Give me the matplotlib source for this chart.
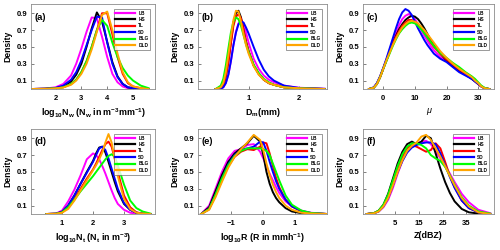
import matplotlib
matplotlib.use('Agg')
import matplotlib.pyplot as plt

plt.rcParams['font.family'] = ['Liberation Sans', 'DejaVu Sans']
plt.rcParams['font.weight'] = 'bold'
plt.rcParams['mathtext.fontset'] = 'custom'
plt.rcParams['mathtext.rm'] = 'Liberation Sans'
plt.rcParams['mathtext.bf'] = 'Liberation Sans:bold'
plt.rcParams['mathtext.it'] = 'Liberation Sans:italic'
plt.rcParams['mathtext.default'] = 'bf'

names = ['LB', 'HS', 'TL', 'SD', 'BLG', 'DLD']
colors = ['#ff00ff', '#000000', '#ff0000', '#0000ff', '#00ff00', '#ffa500']

# (a) log10 Nw
nw_x = [1.1, 1.6, 2.0, 2.3, 2.6, 2.8, 3.0, 3.2, 3.4, 3.6, 3.8, 4.0, 4.2, 4.4, 4.6, 4.8, 5.0, 5.3, 5.6]
nw_lb = [0, 0.005, 0.02, 0.06, 0.16, 0.3, 0.48, 0.68, 0.85, 0.84, 0.62, 0.38, 0.18, 0.08, 0.03, 0.01, 0.005, 0, 0]
nw_hs = [0, 0.003, 0.01, 0.03, 0.09, 0.17, 0.3, 0.5, 0.72, 0.91, 0.8, 0.56, 0.32, 0.15, 0.06, 0.02, 0.01, 0, 0]
nw_tl = [0, 0.002, 0.008, 0.02, 0.06, 0.11, 0.2, 0.33, 0.5, 0.7, 0.9, 0.9, 0.65, 0.38, 0.18, 0.07, 0.03, 0.01, 0]
nw_sd = [0, 0.003, 0.012, 0.04, 0.11, 0.2, 0.34, 0.52, 0.7, 0.86, 0.85, 0.55, 0.3, 0.14, 0.06, 0.02, 0.01, 0, 0]
nw_blg = [0, 0.002, 0.008, 0.02, 0.06, 0.11, 0.2, 0.33, 0.5, 0.7, 0.82, 0.75, 0.55, 0.38, 0.25, 0.16, 0.1, 0.04, 0.01]
nw_dld = [0, 0.002, 0.007, 0.018, 0.05, 0.1, 0.18, 0.3, 0.47, 0.68, 0.88, 0.92, 0.7, 0.42, 0.2, 0.08, 0.03, 0.01, 0]

# (b) Dm
dm_x = [0.35, 0.45, 0.5, 0.55, 0.6, 0.65, 0.7, 0.75, 0.8, 0.85, 0.9, 0.95, 1.0, 1.1, 1.2, 1.3, 1.4, 1.5, 1.7, 2.0, 2.5]
dm_lb = [0, 0.005, 0.02, 0.07, 0.17, 0.33, 0.52, 0.68, 0.78, 0.82, 0.78, 0.67, 0.55, 0.36, 0.24, 0.16, 0.11, 0.08, 0.04, 0.015, 0.003]
dm_hs = [0, 0.01, 0.05, 0.15, 0.33, 0.56, 0.78, 0.9, 0.93, 0.85, 0.7, 0.56, 0.45, 0.28, 0.18, 0.11, 0.07, 0.05, 0.02, 0.008, 0]
dm_tl = [0, 0.01, 0.05, 0.15, 0.32, 0.54, 0.75, 0.86, 0.89, 0.84, 0.7, 0.56, 0.45, 0.28, 0.18, 0.11, 0.07, 0.05, 0.02, 0.008, 0]
dm_sd = [0, 0.005, 0.02, 0.07, 0.17, 0.33, 0.52, 0.67, 0.77, 0.8, 0.79, 0.73, 0.66, 0.5, 0.35, 0.23, 0.15, 0.1, 0.04, 0.012, 0.002]
dm_blg = [0, 0.04, 0.12, 0.28, 0.48, 0.67, 0.8, 0.85, 0.83, 0.75, 0.64, 0.53, 0.44, 0.29, 0.19, 0.12, 0.08, 0.05, 0.02, 0.008, 0]
dm_dld = [0, 0.02, 0.07, 0.2, 0.4, 0.62, 0.82, 0.93, 0.92, 0.8, 0.65, 0.52, 0.42, 0.27, 0.17, 0.11, 0.07, 0.05, 0.02, 0.008, 0]

# (c) mu
mu_x = [-4.5, -3, -2, -1, 0, 1, 2, 3, 4, 5, 6, 7, 8, 9, 10, 11, 12, 13, 14, 15, 16, 18, 20, 22, 24, 26, 28, 29, 30, 31, 32, 33.5]
mu_lb = [0, 0.02, 0.07, 0.15, 0.25, 0.35, 0.46, 0.57, 0.67, 0.76, 0.83, 0.87, 0.89, 0.87, 0.83, 0.77, 0.7, 0.63, 0.57, 0.51, 0.46, 0.38, 0.33, 0.27, 0.22, 0.17, 0.12, 0.09, 0.06, 0.03, 0.01, 0]
mu_hs = [0, 0.015, 0.06, 0.14, 0.24, 0.34, 0.44, 0.54, 0.63, 0.71, 0.77, 0.82, 0.85, 0.87, 0.86, 0.83, 0.78, 0.72, 0.65, 0.58, 0.52, 0.42, 0.34, 0.27, 0.22, 0.17, 0.12, 0.09, 0.06, 0.03, 0.01, 0]
mu_tl = [0, 0.015, 0.06, 0.14, 0.24, 0.34, 0.44, 0.54, 0.62, 0.69, 0.75, 0.79, 0.82, 0.82, 0.8, 0.77, 0.72, 0.67, 0.61, 0.55, 0.5, 0.42, 0.35, 0.29, 0.23, 0.18, 0.13, 0.1, 0.06, 0.03, 0.01, 0]
mu_sd = [0, 0.02, 0.07, 0.15, 0.25, 0.36, 0.48, 0.6, 0.72, 0.83, 0.91, 0.95, 0.93, 0.88, 0.8, 0.72, 0.65, 0.58, 0.52, 0.47, 0.42, 0.36, 0.32, 0.26, 0.2, 0.16, 0.12, 0.09, 0.06, 0.03, 0.01, 0]
mu_blg = [0, 0.015, 0.06, 0.14, 0.24, 0.33, 0.42, 0.51, 0.59, 0.66, 0.71, 0.75, 0.78, 0.79, 0.78, 0.75, 0.71, 0.66, 0.61, 0.56, 0.51, 0.43, 0.37, 0.31, 0.26, 0.2, 0.15, 0.12, 0.08, 0.04, 0.015, 0]
mu_dld = [0, 0.015, 0.06, 0.14, 0.24, 0.34, 0.43, 0.52, 0.6, 0.67, 0.73, 0.77, 0.8, 0.81, 0.8, 0.78, 0.74, 0.7, 0.65, 0.6, 0.55, 0.45, 0.37, 0.3, 0.24, 0.19, 0.14, 0.1, 0.07, 0.03, 0.01, 0]

# (d) log10 Nt
nt_x = [0.5, 0.8, 1.0, 1.2, 1.4, 1.6, 1.8, 2.0, 2.1, 2.2, 2.3, 2.4, 2.5, 2.6, 2.7, 2.8, 3.0, 3.2, 3.4, 3.6, 3.85]
nt_lb = [0, 0.005, 0.04, 0.15, 0.29, 0.46, 0.65, 0.72, 0.7, 0.65, 0.57, 0.48, 0.38, 0.28, 0.19, 0.12, 0.05, 0.015, 0.005, 0, 0]
nt_hs = [0, 0.003, 0.025, 0.1, 0.22, 0.36, 0.5, 0.63, 0.72, 0.79, 0.8, 0.73, 0.62, 0.5, 0.38, 0.27, 0.12, 0.05, 0.015, 0.005, 0]
nt_tl = [0, 0.003, 0.02, 0.08, 0.18, 0.3, 0.42, 0.53, 0.6, 0.68, 0.76, 0.83, 0.86, 0.8, 0.66, 0.5, 0.22, 0.08, 0.02, 0.005, 0]
nt_sd = [0, 0.003, 0.025, 0.1, 0.22, 0.36, 0.49, 0.62, 0.7, 0.78, 0.8, 0.76, 0.66, 0.54, 0.42, 0.3, 0.13, 0.05, 0.015, 0.005, 0]
nt_blg = [0, 0.003, 0.02, 0.08, 0.17, 0.27, 0.36, 0.45, 0.5, 0.55, 0.6, 0.65, 0.69, 0.71, 0.68, 0.58, 0.35, 0.16, 0.07, 0.03, 0.005]
nt_dld = [0, 0.002, 0.015, 0.06, 0.16, 0.28, 0.4, 0.52, 0.58, 0.65, 0.73, 0.85, 0.95, 0.85, 0.66, 0.45, 0.18, 0.06, 0.015, 0.005, 0]

# (e) log10 R
r_x = [-1.95, -1.7, -1.5, -1.3, -1.1, -0.9, -0.7, -0.5, -0.3, -0.1, 0.0, 0.1, 0.2, 0.3, 0.4, 0.5, 0.7, 0.9, 1.2, 1.5, 2.0]
r_lb = [0, 0.1, 0.3, 0.5, 0.66, 0.75, 0.77, 0.82, 0.83, 0.74, 0.66, 0.57, 0.48, 0.4, 0.32, 0.25, 0.15, 0.09, 0.04, 0.015, 0]
r_hs = [0, 0.08, 0.27, 0.46, 0.62, 0.72, 0.78, 0.84, 0.93, 0.86, 0.7, 0.5, 0.36, 0.26, 0.19, 0.14, 0.07, 0.03, 0.01, 0.003, 0]
r_tl = [0, 0.06, 0.22, 0.4, 0.57, 0.68, 0.74, 0.77, 0.76, 0.8, 0.85, 0.84, 0.72, 0.57, 0.43, 0.32, 0.17, 0.09, 0.03, 0.01, 0]
r_sd = [0, 0.06, 0.23, 0.42, 0.59, 0.7, 0.76, 0.78, 0.8, 0.86, 0.85, 0.75, 0.62, 0.5, 0.39, 0.3, 0.17, 0.09, 0.035, 0.012, 0]
r_blg = [0, 0.06, 0.23, 0.42, 0.58, 0.69, 0.75, 0.78, 0.78, 0.78, 0.77, 0.75, 0.7, 0.6, 0.5, 0.4, 0.22, 0.11, 0.04, 0.012, 0]
r_dld = [0, 0.05, 0.2, 0.38, 0.55, 0.68, 0.77, 0.85, 0.94, 0.88, 0.76, 0.6, 0.46, 0.35, 0.26, 0.19, 0.1, 0.05, 0.015, 0.005, 0]

# (f) Z
z_x = [-7, -4, -2, 0, 2, 4, 6, 8, 10, 12, 14, 16, 18, 20, 22, 24, 26, 28, 30, 33, 36, 40, 45]
z_lb = [0, 0.01, 0.03, 0.08, 0.17, 0.31, 0.48, 0.63, 0.74, 0.8, 0.83, 0.86, 0.87, 0.83, 0.75, 0.66, 0.57, 0.48, 0.38, 0.24, 0.14, 0.05, 0.01]
z_hs = [0, 0.01, 0.04, 0.11, 0.24, 0.42, 0.6, 0.74, 0.83, 0.86, 0.83, 0.86, 0.93, 0.9, 0.72, 0.54, 0.38, 0.25, 0.15, 0.06, 0.02, 0.005, 0]
z_tl = [0, 0.01, 0.035, 0.1, 0.21, 0.37, 0.54, 0.68, 0.78, 0.82, 0.8, 0.77, 0.74, 0.76, 0.84, 0.78, 0.62, 0.45, 0.32, 0.16, 0.07, 0.02, 0]
z_sd = [0, 0.008, 0.03, 0.09, 0.19, 0.34, 0.5, 0.63, 0.73, 0.79, 0.82, 0.84, 0.85, 0.85, 0.83, 0.72, 0.58, 0.44, 0.31, 0.16, 0.07, 0.02, 0]
z_blg = [0, 0.01, 0.04, 0.11, 0.23, 0.4, 0.57, 0.71, 0.8, 0.84, 0.84, 0.82, 0.78, 0.7, 0.66, 0.63, 0.56, 0.46, 0.35, 0.2, 0.1, 0.03, 0.005]
z_dld = [0, 0.008, 0.03, 0.09, 0.19, 0.34, 0.5, 0.64, 0.75, 0.81, 0.85, 0.92, 0.94, 0.88, 0.78, 0.68, 0.57, 0.45, 0.34, 0.19, 0.09, 0.02, 0]

panels = [
    ('(a)', nw_x, [nw_lb, nw_hs, nw_tl, nw_sd, nw_blg, nw_dld], (1.05, 5.85), [2, 3, 4, 5],
     r'log$_{10}$N$_{w}$ (N$_{w}$ in m$^{-3}$mm$^{-1}$)'),
    ('(b)', dm_x, [dm_lb, dm_hs, dm_tl, dm_sd, dm_blg, dm_dld], (0.0, 2.55), [1, 2],
     r'D$_{m}$(mm)'),
    ('(c)', mu_x, [mu_lb, mu_hs, mu_tl, mu_sd, mu_blg, mu_dld], (-6.4, 35), [0, 10, 20, 30],
     'μ'),
    ('(d)', nt_x, [nt_lb, nt_hs, nt_tl, nt_sd, nt_blg, nt_dld], (0.0, 4.0), [1, 2, 3],
     r'log$_{10}$N$_{t}$ (N$_{t}$ in m$^{-3}$)'),
    ('(e)', r_x, [r_lb, r_hs, r_tl, r_sd, r_blg, r_dld], (-2.05, 2.0), [-1, 0, 1],
     r'log$_{10}$R (R in mmh$^{-1}$)'),
    ('(f)', z_x, [z_lb, z_hs, z_tl, z_sd, z_blg, z_dld], (-8.6, 46.6), [5, 15, 25, 35],
     r'Z(dBZ)'),
]

fig = plt.figure(figsize=(5, 2.5), dpi=100)
lefts = [0.062, 0.396, 0.726]
widths = [0.248, 0.258, 0.262]
bottoms = [0.644, 0.144]

for i, (tag, x, ys, xlim, xticks, xlabel) in enumerate(panels):
    row, col = divmod(i, 3)
    ax = fig.add_axes([lefts[col], bottoms[row], widths[col], 0.34])
    for y, name, c in zip(ys, names, colors):
        ax.plot(x, y, color=c, lw=1.4, label=name)
    ax.set_xlim(*xlim)
    ax.set_ylim(0, 1.01)
    ax.set_xticks(xticks)
    ax.set_yticks([0.1, 0.3, 0.5, 0.7, 0.9])
    ax.tick_params(direction='in', length=2, width=0.5, labelsize=5.5, color='0.3')
    ax.tick_params(axis='x', pad=4.5)
    ax.tick_params(axis='y', pad=2.5)
    for lab in ax.get_xticklabels() + ax.get_yticklabels():
        lab.set_fontweight('bold')
    for sp in ax.spines.values():
        sp.set_color('0.55')
        sp.set_linewidth(0.6)
    ax.set_ylabel('Density', fontsize=6.2, fontweight='bold', labelpad=3)
    if xlabel == 'μ':
        ax.set_xlabel(xlabel, fontsize=6.5, fontweight='normal', fontstyle='italic', labelpad=3)
    else:
        ax.set_xlabel(xlabel, fontsize=6.4, fontweight='bold', labelpad=3)
    ax.text(0.03, 0.9, tag, transform=ax.transAxes, fontsize=6.8, fontweight='bold',
            va='top', ha='left')
    leg = ax.legend(loc='upper right', fontsize=3.4, handlelength=4.2, labelspacing=0.3,
                    borderpad=0.4, handletextpad=0.6, frameon=True, fancybox=False,
                    borderaxespad=1.0)
    leg.get_frame().set_edgecolor('0.3')
    leg.get_frame().set_linewidth(0.5)
    for h in leg.get_lines():
        h.set_linewidth(1.6)
    for t in leg.get_texts():
        t.set_fontweight('bold')

fig.savefig('out.png', dpi=100)
